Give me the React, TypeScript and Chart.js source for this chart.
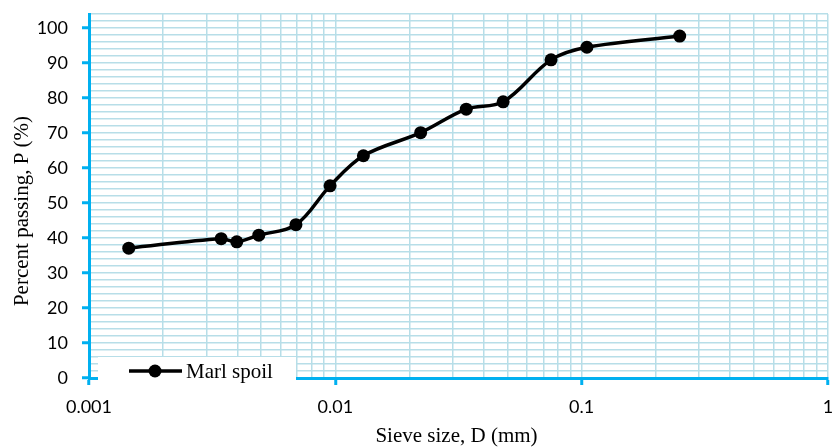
import React, { useEffect, useRef } from "react";
import { Chart, registerables } from "chart.js";

Chart.register(...registerables);

// ---- Data ----
const seriesLabel = "Marl spoil";
const sieveSizeMm = [0.00145, 0.00344, 0.00398, 0.00489, 0.00692, 0.00952, 0.013, 0.0222, 0.034, 0.048, 0.0751, 0.105, 0.25];
const percentPassing = [37.1, 39.8, 38.9, 40.8, 43.8, 54.9, 63.5, 70.1, 76.8, 78.9, 90.9, 94.5, 97.7];

// ---- Axis ticks ----
const xMajorTicks = [0.001, 0.01, 0.1, 1];
const xMinorMultipliers = [1, 2, 3, 4, 5, 6, 7, 8, 9];
const yMajorTicks = [0, 10, 20, 30, 40, 50, 60, 70, 80, 90, 100];
const yMin = 0;
const yMax = 104;
const yGridStep = 2;
const xTitle = "Sieve size, D (mm)";
const yTitle = "Percent passing, P (%)";

// ---- Styles ----
const AXIS_BLUE = "#00B0F0";
const GRID_BLUE = "#B7DEE8";
const TICK_FONT = "Lato";
const SERIF = "'Liberation Serif', 'Times New Roman', serif";

const isXMajor = (v: number) => xMajorTicks.some((m) => Math.abs(m - v) / m < 1e-6);
const isYMajor = (v: number) => yMajorTicks.includes(v);

const zeroPadding = (scale: any) => {
  scale.paddingTop = 0;
  scale.paddingBottom = 0;
  scale.paddingLeft = 0;
  scale.paddingRight = 0;
};

export default function App() {
  const canvasRef = useRef<HTMLCanvasElement | null>(null);

  useEffect(() => {
    const canvas = canvasRef.current;
    if (!canvas) return;

    const xGridValues: number[] = [];
    for (let d = 0; d < xMajorTicks.length - 1; d++) {
      for (const m of xMinorMultipliers) xGridValues.push(+(xMajorTicks[d] * m).toPrecision(6));
    }
    xGridValues.push(xMajorTicks[xMajorTicks.length - 1]);

    const yGridValues: number[] = [];
    for (let v = yMin; v <= yMax; v += yGridStep) yGridValues.push(v);

    const overlayPlugin = {
      id: "overlay",
      afterDraw(chart: any) {
        const ctx = chart.ctx as CanvasRenderingContext2D;
        const area = chart.chartArea;
        ctx.save();
        // Axis titles
        ctx.fillStyle = "#000";
        ctx.font = `21px ${SERIF}`;
        ctx.textAlign = "center";
        ctx.textBaseline = "middle";
        ctx.fillText(xTitle, (area.left + area.right) / 2 - 2, 436);
        ctx.save();
        ctx.translate(22, 211);
        ctx.rotate(-Math.PI / 2);
        ctx.fillText(yTitle, 0, 0);
        ctx.restore();

        // Legend box (inside plot, bottom-left)
        const ds = chart.data.datasets[0];
        ctx.fillStyle = "#ffffff";
        ctx.fillRect(98, 357, 198, 27);
        ctx.strokeStyle = "#000";
        ctx.lineWidth = 3.5;
        ctx.beginPath();
        ctx.moveTo(129, 371);
        ctx.lineTo(182, 371);
        ctx.stroke();
        ctx.fillStyle = "#000";
        ctx.beginPath();
        ctx.arc(155, 371, 6.5, 0, Math.PI * 2);
        ctx.fill();
        ctx.font = `21px ${SERIF}`;
        ctx.textAlign = "left";
        ctx.textBaseline = "alphabetic";
        ctx.fillText(ds.label, 186, 378);
        ctx.restore();
      },
    };

    const chart = new Chart(canvas, {
      type: "line",
      data: {
        datasets: [
          {
            label: seriesLabel,
            data: sieveSizeMm.map((x, i) => ({ x, y: percentPassing[i] })),
            borderColor: "#000",
            backgroundColor: "#000",
            borderWidth: 3.5,
            pointRadius: 6.5,
            pointHoverRadius: 6.5,
            pointBackgroundColor: "#000",
            pointBorderWidth: 0,
            tension: 0.35,
            fill: false,
          },
        ],
      },
      options: {
        responsive: false,
        animation: false,
        events: [],
        layout: { padding: { top: 14, right: 10, left: 0, bottom: 0 } },
        plugins: {
          legend: { display: false },
          tooltip: { enabled: false },
          title: { display: false },
        },
        scales: {
          x: {
            type: "logarithmic",
            min: xMajorTicks[0],
            max: xMajorTicks[xMajorTicks.length - 1],
            afterBuildTicks: (scale: any) => {
              scale.ticks = xGridValues.map((v) => ({ value: v, major: isXMajor(v) }));
            },
            afterFit: (scale: any) => {
              scale.height = 69;
              zeroPadding(scale);
            },
            ticks: {
              autoSkip: false,
              maxRotation: 0,
              minRotation: 0,
              padding: 11,
              color: "#000",
              font: { family: TICK_FONT, size: 18 },
              callback: (value: any) => (isXMajor(Number(value)) ? String(Number(value)) : ""),
            },
            grid: {
              color: GRID_BLUE,
              lineWidth: 1.5,
              drawTicks: true,
              tickLength: 7,
              tickWidth: 3,
              tickColor: (ctx: any) => (ctx.tick && isXMajor(ctx.tick.value) ? AXIS_BLUE : "rgba(0,0,0,0)"),
            },
            border: { display: true, color: AXIS_BLUE, width: 3 },
            title: { display: false },
          },
          y: {
            type: "linear",
            min: yMin,
            max: yMax,
            afterBuildTicks: (scale: any) => {
              scale.ticks = yGridValues.map((v) => ({ value: v }));
            },
            afterFit: (scale: any) => {
              scale.width = 89;
              zeroPadding(scale);
            },
            ticks: {
              autoSkip: false,
              padding: 14,
              color: "#000",
              font: { family: TICK_FONT, size: 18 },
              callback: (value: any) => (isYMajor(Number(value)) ? String(value) : ""),
            },
            grid: {
              color: GRID_BLUE,
              lineWidth: 1.5,
              drawTicks: true,
              tickLength: 7,
              tickWidth: 3,
              tickColor: (ctx: any) => (ctx.tick && isYMajor(ctx.tick.value) ? AXIS_BLUE : "rgba(0,0,0,0)"),
            },
            border: { display: true, color: AXIS_BLUE, width: 3 },
            title: { display: false },
          },
        },
      },
      plugins: [overlayPlugin],
    });

    return () => chart.destroy();
  }, []);

  return (
    <div style={{ position: "fixed", left: 0, top: 0, width: 838, height: 447, background: "#fff" }}>
      <canvas ref={canvasRef} width={838} height={447} style={{ display: "block", width: 838, height: 447 }} />
    </div>
  );
}
